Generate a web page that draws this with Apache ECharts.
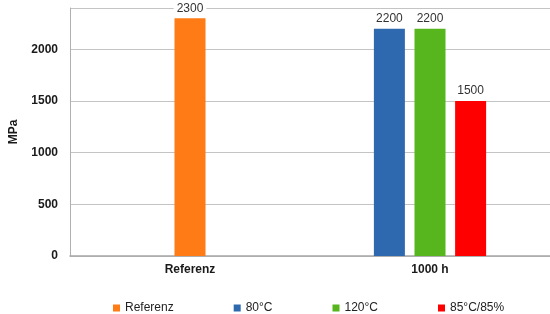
<!DOCTYPE html>
<html>
<head>
    <meta charset="utf-8">
    <title>MPa Vergleich</title>
    <script src="https://cdnjs.cloudflare.com/ajax/libs/echarts/6.0.0/echarts.min.js"></script>
    <style>
        body { margin: 0; background: #fff; }
        #main { width: 550px; height: 314px; }
    </style>
</head>
<body>
<div id="main"></div>
<script>
// Daten
const categories = ['Referenz', '1000 h'];
const referenz = [2300, '-'];
const c80 = ['-', 2200];
const c120 = ['-', 2200];
const c85 = ['-', 1500];
const legendOrder = ['Referenz', '80°C', '120°C', '85°C/85%'];
const yTicks = { min: 0, max: 2400, interval: 500 };

const font = 'Liberation Sans, Arial, sans-serif';
const chart = echarts.init(document.getElementById('main'));

const label = {
    show: true,
    position: 'top',
    distance: 4,
    color: '#333',
    fontSize: 12,
    fontFamily: font,
    backgroundColor: '#fff',
    padding: [0, 3]
};

function bar(name, data, stack, color) {
    return {
        name: name,
        type: 'bar',
        stack: stack,
        data: data,
        barWidth: 31,
        barGap: '31%',
        itemStyle: { color: color },
        label: label
    };
}

chart.setOption({
    animation: false,
    textStyle: { fontFamily: font },
    grid: { left: 70, right: 0, top: 8, bottom: 58 },
    legend: {
        data: legendOrder,
        left: 108,
        top: 297,
        itemWidth: 7,
        itemHeight: 7,
        itemGap: 60,
        icon: 'rect',
        textStyle: { fontSize: 12, color: '#222', fontFamily: font }
    },
    xAxis: {
        type: 'category',
        data: categories,
        axisLine: { lineStyle: { color: '#a6a6a6', width: 1.5 } },
        axisTick: { show: false },
        axisLabel: { fontWeight: 'bold', fontSize: 12, color: '#1a1a1a', margin: 8 }
    },
    yAxis: {
        type: 'value',
        min: yTicks.min,
        max: yTicks.max,
        interval: yTicks.interval,
        name: 'MPa',
        nameLocation: 'middle',
        nameRotate: 90,
        nameGap: 50,
        nameTextStyle: { fontWeight: 'bold', fontSize: 12, color: '#1a1a1a' },
        axisLine: { show: true, lineStyle: { color: '#b0b0b0' } },
        axisTick: { show: false },
        axisLabel: {
            fontWeight: 'bold', fontSize: 12, color: '#1a1a1a', margin: 12, showMaxLabel: false,
            formatter: v => String(v)
        },
        splitLine: { lineStyle: { color: '#c4c4c4' } }
    },
    series: [
        bar('80°C', c80, 'a', '#2e68ae'),
        bar('Referenz', referenz, 'b', '#ff7b15'),
        bar('120°C', c120, 'b', '#57b51d'),
        bar('85°C/85%', c85, 'c', '#ff0000')
    ]
});
</script>
</body>
</html>
